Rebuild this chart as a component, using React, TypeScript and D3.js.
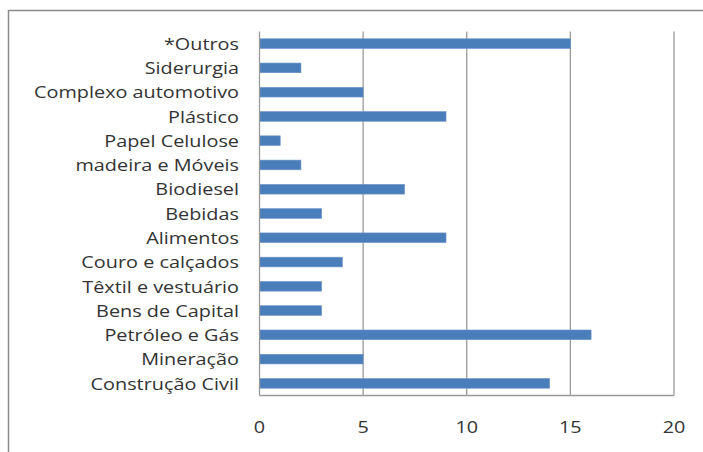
import React from "react";
import * as d3 from "d3";

const categories = [
  "*Outros",
  "Siderurgia",
  "Complexo automotivo",
  "Plástico",
  "Papel Celulose",
  "madeira e Móveis",
  "Biodiesel",
  "Bebidas",
  "Alimentos",
  "Couro e calçados",
  "Têxtil e vestuário",
  "Bens de Capital",
  "Petróleo e Gás",
  "Mineração",
  "Construção Civil",
];
const values = [15, 2, 5, 9, 1, 2, 7, 3, 9, 4, 3, 3, 16, 5, 14];
const ticks = [0, 5, 10, 15, 20];

export default function App() {
  const W = 703, H = 452;
  const left = 259.5, right = 674, top = 31.5, bottom = 395.5;
  const x = d3.scaleLinear().domain([0, 20]).range([left, right]);
  const y = d3.scaleBand<string>().domain(categories).range([top, bottom]).paddingInner(0.6).paddingOuter(0.3);
  const font = "'Open Sans', sans-serif";
  const sx = 1.24;
  return (
    <svg width={W} height={H} style={{ position: "absolute", left: 0, top: 0, background: "#fff" }}>
      <rect x={0} y={0} width={W} height={H} fill="#fff" />
      <path d={`M8.5,${H} V10.5 H${W}`} fill="none" stroke="#8a8a8a" strokeWidth={1.5} />
      {ticks.slice(1).map((t) => (
        <line key={t} x1={x(t)} x2={x(t)} y1={top} y2={bottom} stroke="#9a9a9a" strokeWidth={1.3} />
      ))}
      {categories.map((c, i) => (
        <rect key={c} x={x(0)} y={y(c)!} width={x(values[i]) - x(0)} height={y.bandwidth()} fill="#4a7ebb" stroke="#6f95c7" strokeWidth={0.6} />
      ))}
      <line x1={left} x2={left} y1={top} y2={bottom} stroke="#9a9a9a" strokeWidth={1.3} />
      <line x1={left} x2={right} y1={bottom} y2={bottom} stroke="#9a9a9a" strokeWidth={1.3} />
      <g transform={`scale(${sx},1)`}>
        {categories.map((c) => (
          <text key={c} x={239 / sx} y={y(c)! + y.bandwidth() / 2} textAnchor="end" dominantBaseline="central" fontFamily={font} fontSize={16} fill="#333">
            {c}
          </text>
        ))}
        {ticks.map((t) => (
          <text key={t} x={x(t) / sx} y={427} textAnchor="middle" dominantBaseline="central" fontFamily={font} fontSize={16} fill="#333">
            {t}
          </text>
        ))}
      </g>
    </svg>
  );
}
